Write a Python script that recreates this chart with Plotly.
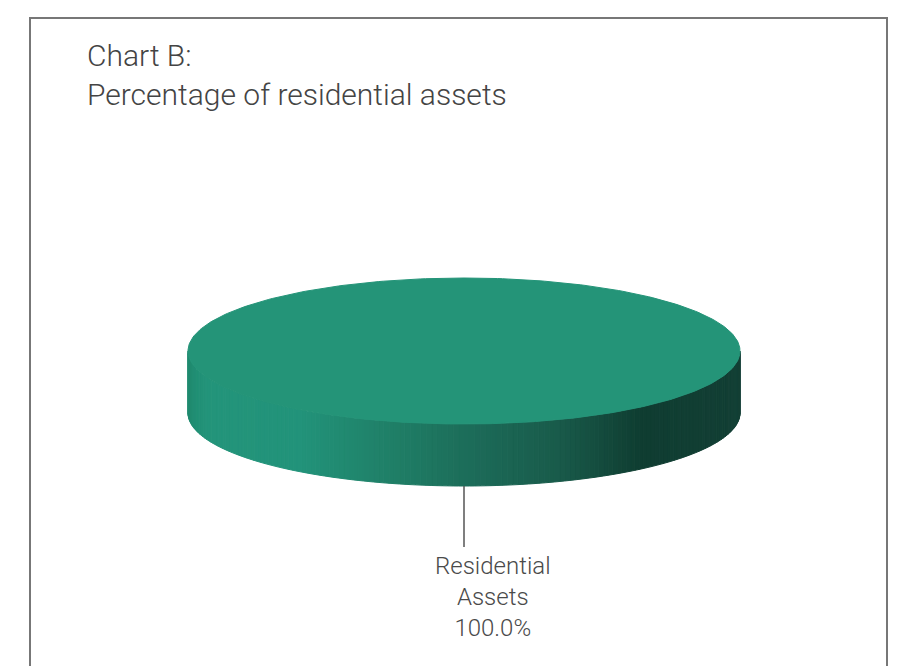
import numpy as np
import plotly.graph_objects as go

# --- dados ---
labels = ["Residential Assets"]
label_lines = ["Residential<br>Assets"]
values = [100.0]
title_lines = ["Chart B:", "Percentage of residential assets"]

# --- geometria da "pizza 3D" (em pixels da página) ---
W, H = 911, 666
cx, cy = 464, 351
rx, ry = 276, 73
depth = 62
top_color = "#249478"
# gradiente lateral (x -> cor)
side_stops = [(188, "#1f8a6f"), (205, "#23947a"), (300, "#22937a"), (400, "#1f7d65"),
              (470, "#1c6c59"), (560, "#195a4a"), (640, "#0f3d31"), (740, "#133f35")]


def hex2rgb(h):
    return np.array([int(h[i:i + 2], 16) for i in (1, 3, 5)], dtype=float)


def side_color(x):
    xs = [s[0] for s in side_stops]
    cols = np.array([hex2rgb(s[1]) for s in side_stops])
    rgb = [np.interp(x, xs, cols[:, k]) for k in range(3)]
    return "rgb({:.0f},{:.0f},{:.0f})".format(*rgb)


fig = go.Figure()

total = sum(values)
start = 90.0  # graus, começa em cima
for lab, lab_txt, v in zip(labels, label_lines, values):
    span = v / total * 360.0
    a0, a1 = np.radians(start), np.radians(start + span)
    # parede lateral: só a metade frontal (y de tela cresce para baixo)
    n = 160
    edges = np.linspace(0, np.pi, n + 1)
    for t0, t1 in zip(edges[:-1], edges[1:]):
        tt = np.linspace(t0, t1, 4)
        xt = cx + rx * np.cos(tt)
        yt = cy + ry * np.sin(tt)
        xs = np.concatenate([xt, xt[::-1], xt[:1]])
        ys = np.concatenate([yt, yt[::-1] + depth, yt[:1]])
        col = side_color(xt.mean())
        fig.add_trace(go.Scatter(x=xs, y=ys, mode="lines", fill="toself",
                                 fillcolor=col, line=dict(color=col, width=1),
                                 hoverinfo="skip", showlegend=False))
    # face superior
    tt = np.linspace(a0, a1, 361)
    xt = cx + rx * np.cos(tt)
    yt = cy - ry * np.sin(tt)
    if span < 360:
        xt = np.concatenate([[cx], xt, [cx]])
        yt = np.concatenate([[cy], yt, [cy]])
    fig.add_trace(go.Scatter(x=xt, y=yt, mode="lines", fill="toself",
                             fillcolor=top_color, line=dict(color=top_color, width=1),
                             hoverinfo="skip", showlegend=False))
    # linha guia + rótulo
    mid = np.radians(start + span / 2) if span < 360 else -np.pi / 2
    lx = cx + rx * np.cos(mid)
    ly = cy - ry * np.sin(mid) + depth
    fig.add_trace(go.Scatter(x=[lx, lx], y=[ly, ly + 61], mode="lines",
                             line=dict(color="#555555", width=1.5),
                             hoverinfo="skip", showlegend=False))
    fig.add_annotation(x=lx + 29, y=ly + 64, xref="x", yref="y", yanchor="top",
                       text=f"{lab_txt}<br>{v / total * 100:.1f}%", showarrow=False,
                       align="center", font=dict(size=24, color="#4a4a4a"))
    start += span

fig.add_annotation(x=85, y=36, xref="x", yref="y", xanchor="left", yanchor="top",
                   text="<br>".join(title_lines), showarrow=False, align="left",
                   font=dict(size=30, color="#444444"))

fig.add_shape(type="rect", xref="x", yref="y", x0=30, x1=887, y0=18, y1=700,
              line=dict(color="#777777", width=2), fillcolor="rgba(0,0,0,0)")

fig.update_layout(
    width=W, height=H,
    margin=dict(l=0, r=0, t=0, b=0),
    paper_bgcolor="white", plot_bgcolor="white",
    font=dict(family="Roboto", weight=300),
    xaxis=dict(range=[0, W], visible=False, fixedrange=True),
    yaxis=dict(range=[H, 0], visible=False, fixedrange=True),
    showlegend=False,
)
fig.write_html("out.html", post_script="document.body.style.margin='0';",
               config={"displayModeBar": False})
